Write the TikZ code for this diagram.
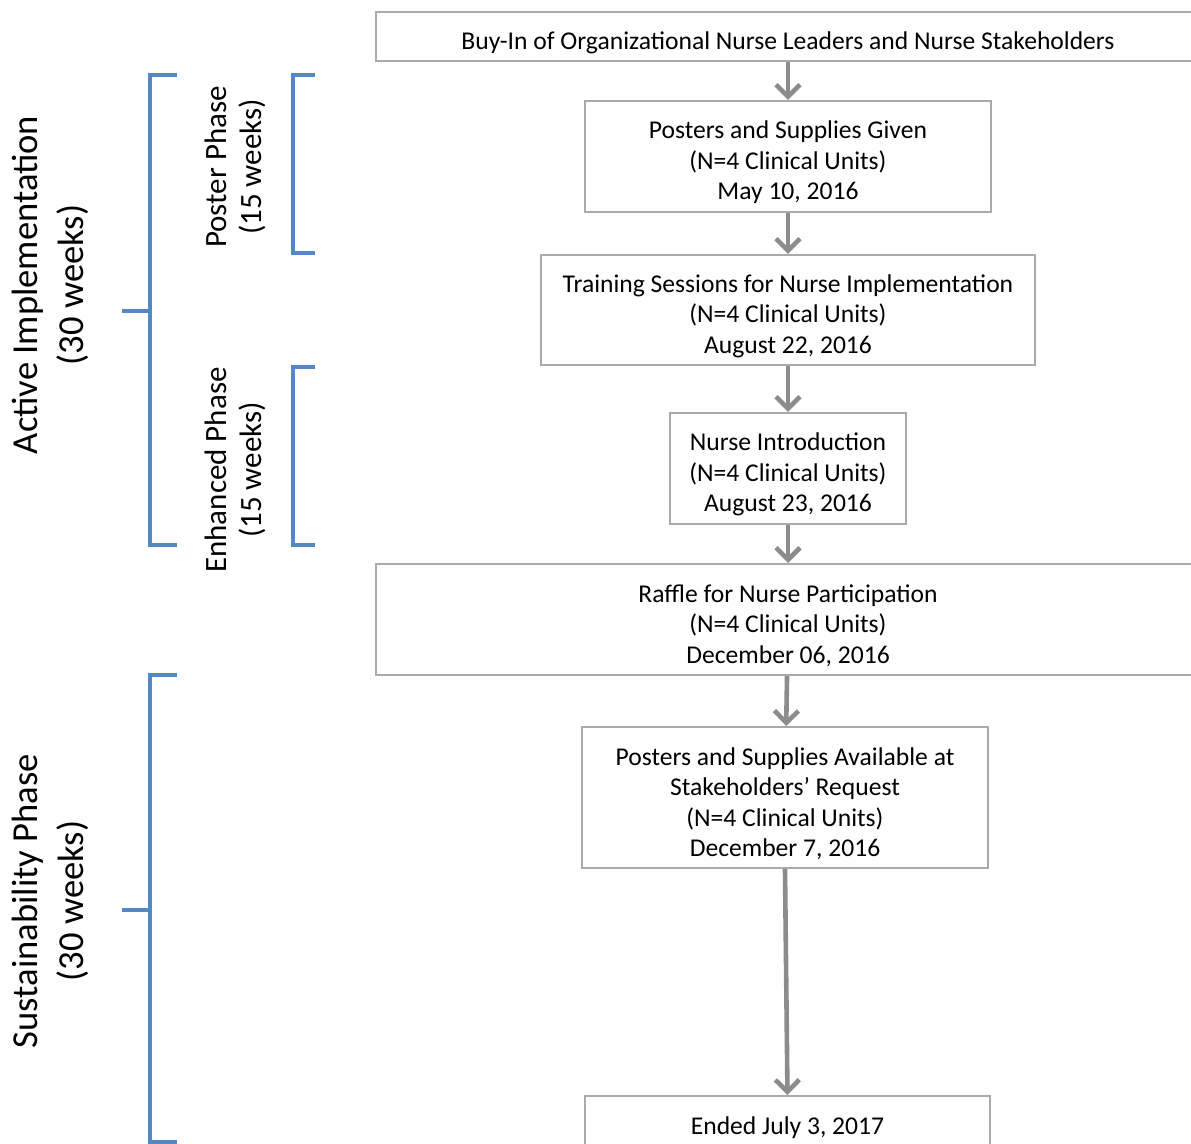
\documentclass[tikz,border=0pt]{standalone}
\usepackage{fontspec}
\setmainfont{Carlito}
\usetikzlibrary{arrows.meta}

\definecolor{boxgray}{RGB}{170,170,170}
\definecolor{arrowgray}{RGB}{140,140,140}
\definecolor{phaseblue}{RGB}{84,136,196}
\newcommand{\stagestrut}{\rule{0pt}{15pt}}

\begin{document}
\begin{tikzpicture}[
    x=0.5pt, y=-0.5pt,
    stage/.style={rectangle, draw=boxgray, line width=1pt, fill=white, inner sep=0pt, align=center,
        font=\fontsize{12.8}{15.25}\selectfont},
    arrow/.style={-{Straight Barb[length=6pt, width=12pt]}, draw=arrowgray, line width=2.3pt},
    bracket/.style={draw=phaseblue, line width=1.6pt},
    bigphase/.style={rotate=90, align=center, font=\fontsize{18.3}{23}\selectfont},
    subphase/.style={rotate=90, align=center, font=\fontsize{15.5}{17.5}\selectfont}
]
\useasboundingbox (0,0) rectangle (1191,1144);
\clip (0,0) rectangle (1191,1144);

% === FLOW BOXES ===
\node (buyin) [stage, minimum width=412pt, minimum height=24.5pt] at (788,36.5) {\stagestrut Buy-In of Organizational Nurse Leaders and Nurse Stakeholders};
\node (posters) [stage, minimum width=203pt, minimum height=55.5pt] at (788,156.5) {\stagestrut Posters and Supplies Given\\(N=4 Clinical Units)\\May 10, 2016};
\node (training) [stage, minimum width=247pt, minimum height=55pt] at (788,310) {\stagestrut Training Sessions for Nurse Implementation\\(N=4 Clinical Units)\\August 22, 2016};
\node (intro) [stage, minimum width=118pt, minimum height=55.5pt] at (788,468.5) {\stagestrut Nurse Introduction\\(N=4 Clinical Units)\\August 23, 2016};
\node (raffle) [stage, minimum width=412pt, minimum height=55.5pt] at (788,619.5) {\stagestrut Raffle for Nurse Participation\\(N=4 Clinical Units)\\December 06, 2016};
\node (available) [stage, minimum width=203pt, minimum height=70.5pt] at (785,797.5) {\stagestrut Posters and Supplies Available at\\Stakeholders' Request\\(N=4 Clinical Units)\\December 7, 2016};
\node (ended) [stage, minimum width=202.5pt, minimum height=26pt] at (787.5,1122) {\stagestrut Ended July 3, 2017};

% === ARROWS ===
\draw [arrow] (buyin) -- (posters);
\draw [arrow] (posters) -- (training);
\draw [arrow] (training) -- (intro);
\draw [arrow] (intro) -- (raffle);
\draw [arrow] (raffle) -- (available);
\draw [arrow] (available.south) -- (ended.north);

% === PHASE BRACKETS ===
\draw [bracket] (177,75) -- (150,75) -- (150,545) -- (177,545);
\draw [bracket] (122,311) -- (150,311);
\draw [bracket] (315,75) -- (293,75) -- (293,253) -- (315,253);
\draw [bracket] (315,367) -- (293,367) -- (293,545) -- (315,545);
\draw [bracket] (177,675) -- (150,675) -- (150,1142) -- (177,1142);
\draw [bracket] (122,910) -- (150,910);

% === PHASE LABELS ===
\node (active) [bigphase] at (50,285) {Active Implementation\\(30 weeks)};
\node (poster) [subphase] at (235,167) {Poster Phase\\(15 weeks)};
\node (enhanced) [subphase] at (235,470) {Enhanced Phase\\(15 weeks)};
\node (sustain) [bigphase] at (50,901) {Sustainability Phase\\(30 weeks)};

\end{tikzpicture}
\end{document}
